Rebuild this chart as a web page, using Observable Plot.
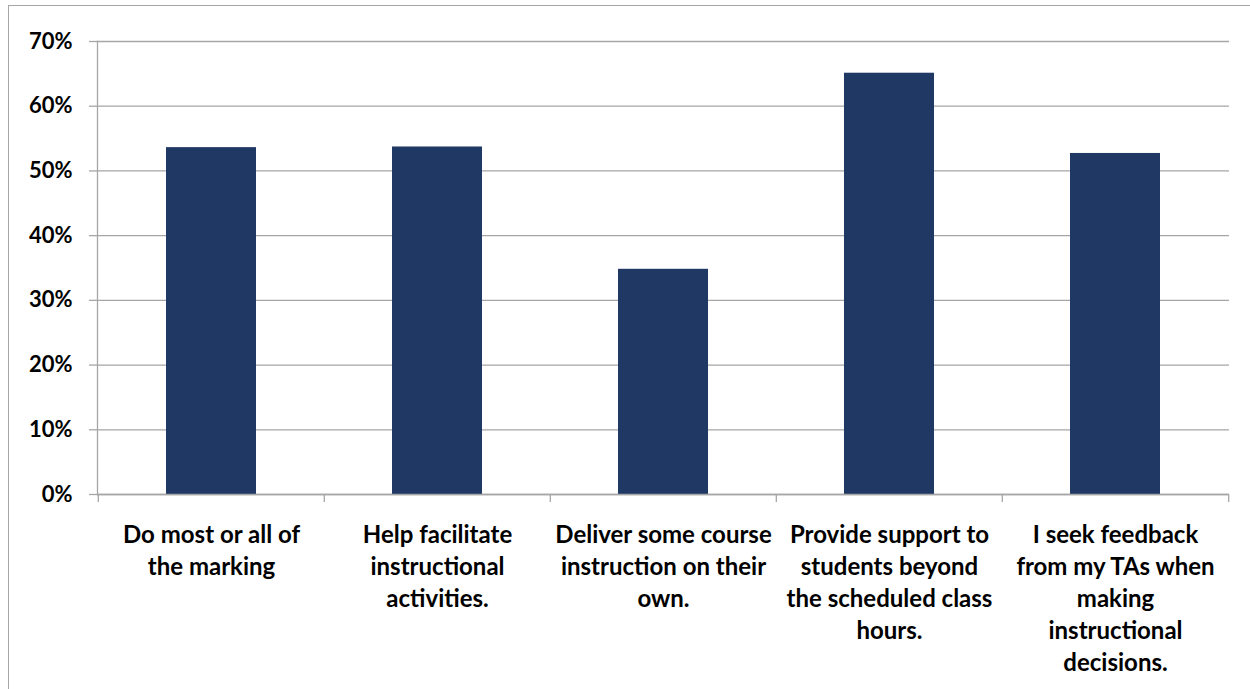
<!DOCTYPE html>
<html><head><meta charset="utf-8">
<script src="https://cdn.jsdelivr.net/npm/d3@7"></script>
<script src="https://cdn.jsdelivr.net/npm/@observablehq/plot@0.6"></script>
<style>
body{margin:0;background:#fff;}
#frame{position:absolute;left:8px;top:5px;width:1260px;height:700px;border-left:1.5px solid #a6a6a6;border-top:1.5px solid #a6a6a6;}
#chart{position:absolute;left:0;top:0;}
</style></head><body>
<div id="frame"></div><div id="chart"></div>
<script>
const categories = [
  "Do most or all of the marking",
  "Help facilitate instructional activities.",
  "Deliver some course instruction on their own.",
  "Provide support to students beyond the scheduled class hours.",
  "I seek feedback from my TAs when making instructional decisions."
];
const labelLines = [
  "Do most or all of\nthe marking",
  "Help facilitate\ninstructional\nactivities.",
  "Deliver some course\ninstruction on their\nown.",
  "Provide support to\nstudents beyond\nthe scheduled class\nhours.",
  "I seek feedback\nfrom my TAs when\nmaking\ninstructional\ndecisions."
];
const values = [0.536, 0.537, 0.348, 0.651, 0.527];
const yTicks = [0, 0.1, 0.2, 0.3, 0.4, 0.5, 0.6, 0.7];

const data = categories.map((c, i) => ({category: c, value: values[i]}));
const W = 1250, H = 689, mL = 97, mR = 21, mT = 41, mB = 195;
const band = (W - mL - mR) / categories.length;
const grey = "#a6a6a6";

const chart = Plot.plot({
  width: W, height: H,
  marginLeft: mL, marginRight: mR, marginTop: mT, marginBottom: mB,
  style: {fontFamily: "Lato, 'Noto Sans', sans-serif", fontWeight: "bold", fontSize: "20px", color: "#000", background: "transparent"},
  x: {domain: categories, paddingInner: 0.6, paddingOuter: 0.3, align: 0.5, label: null},
  y: {domain: [0, 0.7], label: null},
  marks: [
    Plot.gridY(yTicks, {stroke: grey, strokeOpacity: 1, strokeWidth: 1.3}),
    Plot.barY(data, {x: "category", y: "value", fill: "#203864"}),
    Plot.ruleY([0], {stroke: grey, strokeWidth: 1.3}),
    Plot.frame({anchor: "left", stroke: grey, strokeWidth: 1.3}),
    Plot.axisY(yTicks, {tickFormat: d3.format(".0%"), tickSize: 8, tickPadding: 17, stroke: grey, strokeWidth: 1.3, fontSize: 22, fontWeight: "bold", fill: "#000"}),
    Plot.axisX(categories, {tickSize: 8, tickFormat: () => "", dx: -band / 2, stroke: grey, strokeWidth: 1.3}),
    Plot.axisX(categories.slice(-1), {tickSize: 8, tickFormat: () => "", dx: band / 2, stroke: grey, strokeWidth: 1.3}),
    Plot.axisX(categories, {tickSize: 0, tickPadding: 26, tickFormat: d => labelLines[categories.indexOf(d)], lineHeight: 1.33, fontSize: 24, fontWeight: "bold", fill: "#000"})
  ]
});
document.getElementById("chart").append(chart);
</script>
</body></html>
